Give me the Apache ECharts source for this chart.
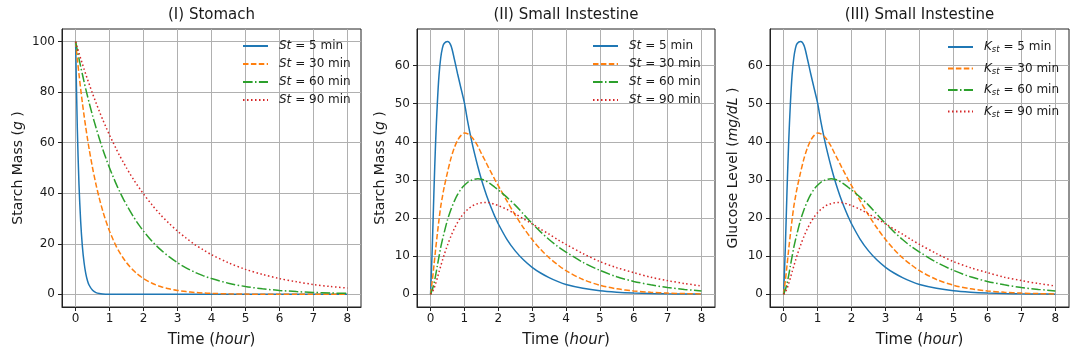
<!DOCTYPE html>
<html>
<head>
<meta charset="utf-8">
<script src="https://cdn.jsdelivr.net/npm/echarts@6/dist/echarts.min.js"></script>
<style>
  html, body { margin: 0; padding: 0; background: #fff; }
  #chart { width: 1080px; height: 360px; }
</style>
</head>
<body>
<div id="chart"></div>
<script>
// sample times (hour), shared by every trace
const hours = [0, 0.05, 0.1, 0.15, 0.2, 0.25, 0.3, 0.35, 0.4,
  0.5, 0.6, 0.7, 0.8, 0.9, 1.0,
  1.1, 1.2, 1.3, 1.4, 1.5, 1.6, 1.7, 1.8, 1.9, 2.0,
  2.25, 2.5, 2.75, 3.0, 3.25, 3.5, 3.75, 4.0,
  4.5, 5, 5.5, 6, 6.5, 7, 7.5, 8];

// (I) stomach, starch mass (g)
const stomach5 = [100, 66, 43.5, 28.7, 18.9, 12.5, 8.2, 5.4, 3.6,
  1.6, 0.7, 0.3, 0.13, 0.06, 0.02,
  0.01, 0, 0, 0, 0, 0, 0, 0, 0, 0,
  0, 0, 0, 0, 0, 0, 0, 0,
  0, 0, 0, 0, 0, 0, 0, 0];
const stomach30 = [100, 93.3, 87.1, 81.2, 75.8, 70.7, 66.0, 61.6, 57.4,
  50, 43.5, 37.9, 33.0, 28.7, 25,
  21.8, 18.9, 16.5, 14.4, 12.5, 10.9, 9.5, 8.2, 7.2, 6.25,
  4.4, 3.1, 2.2, 1.56, 1.1, 0.78, 0.55, 0.39,
  0.2, 0.1, 0.05, 0.02, 0.01, 0, 0, 0];
const stomach60 = [100, 96.6, 93.3, 90.1, 87.1, 84.1, 81.2, 78.5, 75.8,
  70.7, 66.0, 61.6, 57.4, 53.6, 50,
  46.7, 43.5, 40.6, 37.9, 35.4, 33.0, 30.8, 28.7, 26.8, 25,
  21.0, 17.7, 14.9, 12.5, 10.5, 8.8, 7.4, 6.25,
  4.4, 3.1, 2.2, 1.56, 1.1, 0.78, 0.55, 0.39];
const stomach90 = [100, 97.7, 95.5, 93.3, 91.2, 89.1, 87.1, 85.1, 83.2,
  79.4, 75.8, 72.4, 69.1, 66.0, 63.0,
  60.2, 57.4, 54.8, 52.4, 50.0, 47.7, 45.6, 43.5, 41.6, 39.7,
  35.4, 31.5, 28.1, 25.0, 22.3, 19.8, 17.7, 15.7,
  12.5, 9.9, 7.9, 6.25, 5.0, 3.9, 3.1, 2.5];

// (II) small intestine, starch mass (g)
const intestine5 = [0, 12, 27, 40, 50, 57.5, 62, 64.6, 65.8,
  66.3, 65.3, 61.8, 57.8, 54.0, 50.2,
  45.2, 40.8, 36.9, 33.4, 30.2, 27.4, 24.8, 22.5, 20.4, 18.5,
  14.5, 11.4, 9.0, 7.1, 5.6, 4.4, 3.4, 2.6,
  1.6, 0.95, 0.58, 0.35, 0.21, 0.13, 0.08, 0.05];
const intestine30 = [0, 3.5, 7.5, 11.8, 15.8, 19.6, 23, 25.6, 28,
  32, 35.6, 38.4, 40.4, 41.7, 42.3,
  42.1, 41.4, 40.3, 38.8, 37.0, 35.3, 33.5, 31.8, 30.1, 28.5,
  24.6, 20.8, 17.4, 14.4, 11.8, 9.6, 7.8, 6.2,
  3.9, 2.4, 1.45, 0.9, 0.55, 0.33, 0.2, 0.12];
const intestine60 = [0, 1.2, 2.8, 5, 7.5, 9.9, 12.3, 14.3, 16.1,
  19.5, 22.2, 24.4, 26.2, 27.6, 28.6,
  29.4, 29.9, 30.2, 30.3, 30.2, 29.9, 29.4, 28.8, 28.1, 27.4,
  25.5, 23.4, 21.0, 18.6, 16.4, 14.4, 12.6, 11.1,
  8.4, 6.3, 4.6, 3.4, 2.5, 1.8, 1.3, 0.9];
const intestine90 = [0, 0.6, 1.5, 2.8, 4.3, 5.9, 7.4, 8.9, 10.3,
  12.9, 15.2, 17.2, 18.9, 20.3, 21.4,
  22.3, 23.0, 23.5, 23.8, 24.0, 24.1, 24.1, 23.9, 23.6, 23.3,
  22.3, 21.1, 19.8, 18.5, 17.1, 15.8, 14.4, 13.1,
  10.7, 8.6, 7.0, 5.7, 4.5, 3.6, 2.85, 2.2];

// (III) glucose level (mg/dL) - the traces read the same as panel II
const glucose5 = intestine5;
const glucose30 = intestine30;
const glucose60 = intestine60;
const glucose90 = intestine90;

const stNames = ["St = 5 min", "St = 30 min", "St = 60 min", "St = 90 min"];
const kNames = ["Kst = 5 min", "Kst = 30 min", "Kst = 60 min", "Kst = 90 min"];
const titles = ["(I) Stomach", "(II) Small Instestine", "(III) Small Instestine"];

const FONT = "DejaVu Sans";
const TXT = "#1a1a1a";
const colors = ["#1f77b4", "#ff7f0e", "#2ca02c", "#d62728"];
const dashes = ["solid", [5.5, 2.4], [9.6, 2.4, 1.5, 2.4], [1.5, 2.5]];

// plot boxes, px
const boxes = [
  { left: 62, top: 29, width: 299, height: 278 },
  { left: 417, top: 29, width: 298, height: 278 },
  { left: 770, top: 29, width: 299, height: 278 }
];

function pairs(vals) {
  return hours.map((t, i) => [t, vals[i]]);
}

const rich = {
  i: { fontStyle: "italic", fontFamily: FONT, fontSize: 12, color: TXT },
  k: { fontStyle: "italic", fontFamily: FONT, fontSize: 12, color: TXT },
  s: { fontStyle: "italic", fontFamily: FONT, fontSize: 8.5, color: TXT, padding: [6, 0, 0, 0] },
  n: { fontFamily: FONT, fontSize: 12, color: TXT }
};

function legendText(name) {
  if (name.indexOf("Kst") === 0) return "{k|K}{s|st}{n|" + name.slice(3) + "}";
  return "{i|St}{n|" + name.slice(2) + "}";
}

const nameRich = size => ({
  i: { fontStyle: "italic", fontFamily: FONT, fontSize: size, color: TXT }
});

function xAxisOf(idx) {
  return {
    type: "value",
    gridIndex: idx,
    min: -0.4,
    max: 8.4,
    minInterval: 1,
    maxInterval: 1,
    name: "Time ({i|hour})",
    nameLocation: "middle",
    nameGap: 26,
    nameTextStyle: { fontFamily: FONT, fontSize: 15, color: TXT, rich: nameRich(15) },
    axisLine: { show: true, onZero: false, lineStyle: { color: "#222", width: 1 } },
    axisTick: { show: true, length: 4, lineStyle: { color: "#222" } },
    axisLabel: { fontFamily: FONT, fontSize: 12, color: TXT, margin: 6, showMinLabel: false, showMaxLabel: false },
    splitLine: { show: true, showMinLine: false, showMaxLine: false, lineStyle: { color: "#b0b0b0", width: 1 } }
  };
}

function yAxisOf(idx, min, max, step, name, gap) {
  return {
    type: "value",
    gridIndex: idx,
    min: min,
    max: max,
    minInterval: step,
    maxInterval: step,
    name: name,
    nameLocation: "middle",
    nameGap: gap,
    nameTextStyle: { fontFamily: FONT, fontSize: 14, color: TXT, rich: nameRich(14) },
    axisLine: { show: true, onZero: false, lineStyle: { color: "#222", width: 1 } },
    axisTick: { show: true, length: 4, lineStyle: { color: "#222" } },
    axisLabel: { fontFamily: FONT, fontSize: 12, color: TXT, margin: 7, showMinLabel: false, showMaxLabel: false },
    splitLine: { show: true, showMinLine: false, showMaxLine: false, lineStyle: { color: "#b0b0b0", width: 1 } }
  };
}

function lineSeries(name, vals, panel, k) {
  return {
    name: name,
    type: "line",
    xAxisIndex: panel,
    yAxisIndex: panel,
    data: pairs(vals),
    symbol: "none",
    smooth: 0.3,
    lineStyle: { color: colors[k], width: 1.5, type: dashes[k] },
    itemStyle: { color: colors[k] },
    animation: false
  };
}

const panelData = [
  [stomach5, stomach30, stomach60, stomach90],
  [intestine5, intestine30, intestine60, intestine90],
  [glucose5, glucose30, glucose60, glucose90]
];
const panelNames = [stNames, stNames, kNames];

const series = [];
panelData.forEach((set, p) => {
  set.forEach((vals, k) => series.push(lineSeries(panelNames[p][k], vals, p, k)));
});

const legendPos = [
  { left: 242, top: 40, gap: 6 },
  { left: 592, top: 40, gap: 6 },
  { left: 947, top: 41, gap: 8 }
];

const option = {
  backgroundColor: "#fff",
  animation: false,
  title: titles.map((t, i) => ({
    text: t,
    left: boxes[i].left + boxes[i].width / 2,
    top: 8,
    textAlign: "center",
    padding: 0,
    textStyle: { fontFamily: FONT, fontSize: 15, fontWeight: "normal", color: TXT }
  })),
  grid: boxes.map(b => ({
    left: b.left, top: b.top, width: b.width, height: b.height,
    show: true, borderColor: "#222", borderWidth: 1, backgroundColor: "transparent",
    containLabel: false
  })),
  legend: legendPos.map((l, i) => ({
    data: panelNames[i],
    orient: "vertical",
    left: l.left,
    top: l.top,
    padding: 0,
    itemGap: l.gap,
    itemWidth: 25,
    itemHeight: 14,
    // hide the marker dot, keep only the line sample
    itemStyle: { opacity: 0 },
    selectedMode: false,
    formatter: legendText,
    textStyle: { fontFamily: FONT, fontSize: 12, color: TXT, padding: [0, 0, 0, 6], rich: rich }
  })),
  xAxis: [xAxisOf(0), xAxisOf(1), xAxisOf(2)],
  yAxis: [
    yAxisOf(0, -5, 105, 20, "Starch Mass ({i|g} )", 37),
    yAxisOf(1, -3.315, 69.6, 10, "Starch Mass ({i|g} )", 30),
    yAxisOf(2, -3.315, 69.6, 10, "Glucose Level ({i|mg/dL} )", 30)
  ],
  series: series
};

const chart = echarts.init(document.getElementById("chart"), null, { renderer: "canvas" });
chart.setOption(option);
</script>
</body>
</html>
